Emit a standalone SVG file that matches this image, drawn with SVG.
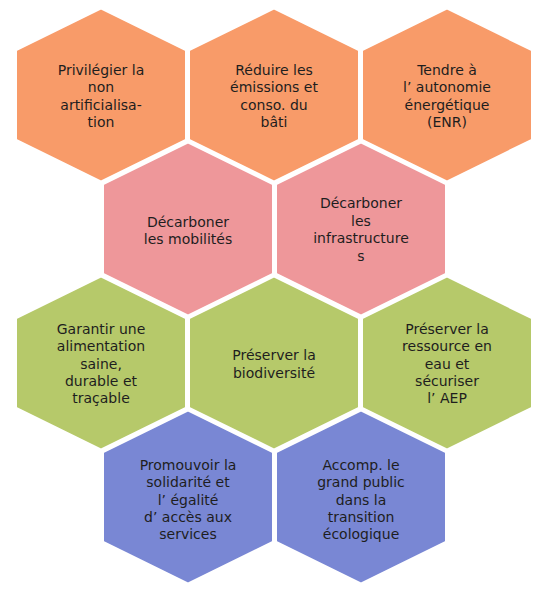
<svg xmlns="http://www.w3.org/2000/svg" width="547" height="592" viewBox="0 0 547 592">
<defs>
<style>
.hex{stroke:#ffffff;stroke-width:3;stroke-linejoin:miter}
.o{fill:#F89B69}.p{fill:#EE979A}.g{fill:#B6C96A}.b{fill:#7987D4}
text{font-family:"DejaVu Sans",Verdana,sans-serif;font-size:14px;fill:#1e1e1e;text-anchor:middle}
</style>
<path id="hx" d="M0,-87 L85.5,-45 L85.5,45 L0,87 L-85.5,45 L-85.5,-45 Z"/>
</defs>
<rect width="547" height="592" fill="#ffffff"/>
<g id="n1" transform="translate(101,95)"><use href="#hx" class="hex o"/>
<text y="-20.5"><tspan x="0">Privilégier la</tspan><tspan x="0" dy="17.5">non</tspan><tspan x="0" dy="17.5">artificialisa-</tspan><tspan x="0" dy="17.5">tion</tspan></text></g>
<g id="n2" transform="translate(274,95)"><use href="#hx" class="hex o"/>
<text y="-20.5"><tspan x="0">Réduire les</tspan><tspan x="0" dy="17.5">émissions et</tspan><tspan x="0" dy="17.5">conso. du</tspan><tspan x="0" dy="17.5">bâti</tspan></text></g>
<g id="n3" transform="translate(447,95)"><use href="#hx" class="hex o"/>
<text y="-20.5"><tspan x="0">Tendre à</tspan><tspan x="0" dy="17.5">l’ autonomie</tspan><tspan x="0" dy="17.5">énergétique</tspan><tspan x="0" dy="17.5">(ENR)</tspan></text></g>
<g id="n4" transform="translate(188,229)"><use href="#hx" class="hex p"/>
<text y="-2"><tspan x="0">Décarboner</tspan><tspan x="0" dy="17">les mobilités</tspan></text></g>
<g id="n5" transform="translate(361,229)"><use href="#hx" class="hex p"/>
<text y="-21"><tspan x="0">Décarboner</tspan><tspan x="0" dy="17.5">les</tspan><tspan x="0" dy="17.5">infrastructure</tspan><tspan x="0" dy="17.5">s</tspan></text></g>
<g id="n6" transform="translate(101,363)"><use href="#hx" class="hex g"/>
<text y="-29"><tspan x="0">Garantir une</tspan><tspan x="0" dy="17.3">alimentation</tspan><tspan x="0" dy="17.3">saine,</tspan><tspan x="0" dy="17.3">durable et</tspan><tspan x="0" dy="17.3">traçable</tspan></text></g>
<g id="n7" transform="translate(274,363)"><use href="#hx" class="hex g"/>
<text y="-3"><tspan x="0">Préserver la</tspan><tspan x="0" dy="17.5">biodiversité</tspan></text></g>
<g id="n8" transform="translate(447,363)"><use href="#hx" class="hex g"/>
<text y="-29"><tspan x="0">Préserver la</tspan><tspan x="0" dy="17.3">ressource en</tspan><tspan x="0" dy="17.3">eau et</tspan><tspan x="0" dy="17.3">sécuriser</tspan><tspan x="0" dy="17.3">l’ AEP</tspan></text></g>
<g id="n9" transform="translate(188,497)"><use href="#hx" class="hex b"/>
<text y="-27"><tspan x="0">Promouvoir la</tspan><tspan x="0" dy="17.3">solidarité et</tspan><tspan x="0" dy="17.3">l’ égalité</tspan><tspan x="0" dy="17.3">d’ accès aux</tspan><tspan x="0" dy="17.3">services</tspan></text></g>
<g id="n10" transform="translate(361,497)"><use href="#hx" class="hex b"/>
<text y="-27"><tspan x="0">Accomp. le</tspan><tspan x="0" dy="17.3">grand public</tspan><tspan x="0" dy="17.3">dans la</tspan><tspan x="0" dy="17.3">transition</tspan><tspan x="0" dy="17.3">écologique</tspan></text></g>
<g id="connectors"></g>
</svg>
